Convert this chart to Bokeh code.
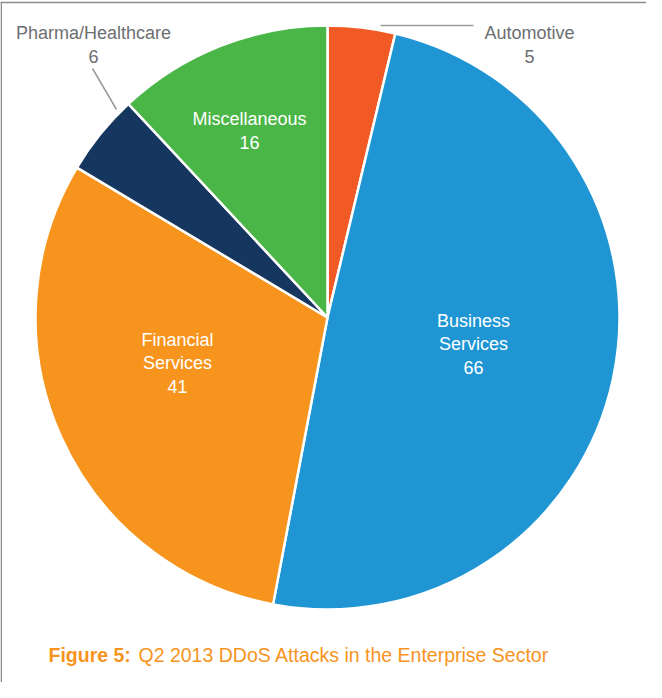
import numpy as np
from bokeh.plotting import figure
from bokeh.models import ColumnDataSource, Range1d
from bokeh.core.properties import value
from bokeh.embed import file_html
from bokeh.resources import INLINE

# ---- data ----
categories = ["Automotive", "Business Services", "Financial Services", "Pharma/Healthcare", "Miscellaneous"]
counts = [5, 66, 41, 6, 16]
colors = ["#f15a24", "#1f96d3", "#f7941d", "#15365e", "#4bb648"]
caption_bold = "Figure 5:"
caption_text = "Q2 2013 DDoS Attacks in the Enterprise Sector"

# ---- layout (image pixel coords -> plot coords) ----
W, H = 646, 682
def X(x): return x - 8
def Y(y): return 690 - y

FONT = "Liberation Sans"
cx, cy, R = X(335), Y(325), 292

p = figure(width=W, height=H, output_backend="svg", toolbar_location=None,
           x_range=Range1d(0, W), y_range=Range1d(0, H),
           x_axis_type=None, y_axis_type=None, min_border=0)
p.grid.visible = False
p.outline_line_color = None
p.background_fill_color = "white"
p.border_fill_color = "white"

# frame (top and left rules)
p.line([X(0), X(662)], [Y(10), Y(10)], line_color="#8c8c8c", line_width=1.5)
p.line([0.75, 0.75], [Y(10), 0], line_color="#8c8c8c", line_width=1.5)

# pie wedges, clockwise from 12 o'clock
vals = np.array(counts, dtype=float)
frac = vals / vals.sum()
cum = np.concatenate([[0.0], np.cumsum(frac)])
start = np.pi / 2 - cum[:-1] * 2 * np.pi
end = np.pi / 2 - cum[1:] * 2 * np.pi
src = ColumnDataSource(dict(start=start, end=end, color=colors, cat=categories, n=counts))
p.wedge(x=cx, y=cy, radius=R, start_angle="start", end_angle="end", direction="clock",
        fill_color="color", line_color="white", line_width=2.5, source=src)

# leader lines for small outside labels
p.line([X(388), X(481)], [Y(33), Y(33)], line_color="#9a9a9a", line_width=1.5)
p.line([X(100), X(124)], [Y(76), Y(117)], line_color="#9a9a9a", line_width=1.5)

# labels: (center x, first baseline y, colour) per category
label_pos = {
    "Automotive": (537, 40.7, "#6d6e71"),
    "Business Services": (481, 328, "white"),
    "Financial Services": (185, 347, "white"),
    "Pharma/Healthcare": (101, 40.7, "#6d6e71"),
    "Miscellaneous": (257, 126.7, "white"),
}
LS = 23.5
tx, ty, tt, tc = [], [], [], []
for cat, n in zip(categories, counts):
    lx, ly, col = label_pos[cat]
    lines = cat.split(" ") + [str(n)]
    for i, ln in enumerate(lines):
        tx.append(X(lx)); ty.append(Y(ly + i * LS)); tt.append(ln); tc.append(col)
p.text(x=tx, y=ty, text=tt, text_color=tc, text_font=value(FONT), text_font_size="18px",
       text_align="center", text_baseline="alphabetic")

# caption
p.text(x=[X(56)], y=[Y(662)], text=[caption_bold], text_color="#f7941d",
       text_font=value(FONT), text_font_size="19.5px", text_font_style="bold",
       text_align="left", text_baseline="alphabetic")
p.text(x=[X(146)], y=[Y(662)], text=[caption_text], text_color="#f7941d",
       text_font=value(FONT), text_font_size="19.5px",
       text_align="left", text_baseline="alphabetic")

open("out.html", "w").write(file_html(p, INLINE))
